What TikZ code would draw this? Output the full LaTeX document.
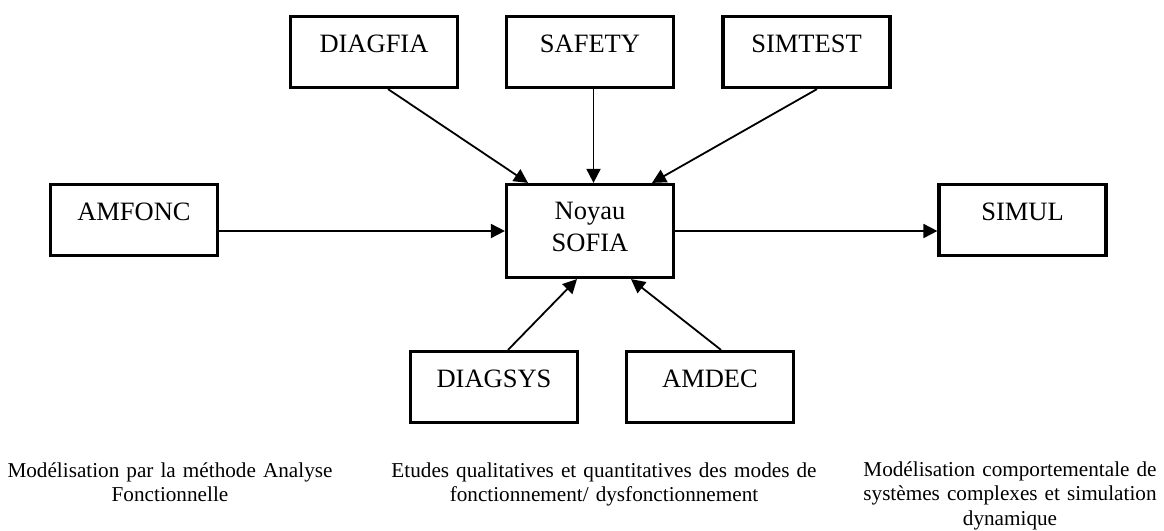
\documentclass[tikz,border=0pt]{standalone}
\usepackage{fontspec}
\setmainfont{Liberation Serif}
\usetikzlibrary{arrows.meta,calc}
\begin{document}
\begin{tikzpicture}[x=1pt,y=-1pt,
  boxbase/.style={draw, line width=3.2pt, minimum width=167pt, inner sep=0pt,
    font=\fontsize{26.5}{32}\selectfont},
  boxnode/.style={boxbase, minimum height=71pt, text height=18pt, text depth=18pt},
  conn/.style={line width=1.8pt, -{Triangle[length=14pt,width=14pt]}},
  caption/.style={font=\fontsize{21.2}{24.5}\selectfont, align=center, anchor=base, inner sep=0pt}]
\useasboundingbox (0,0) rectangle (1164,530);
% boxes
\node[boxnode] (diagfia) at (374,52) {DIAGFIA};
\node[boxnode] (safety) at (590,52) {SAFETY};
\node[boxnode] (simtest) at (806.5,52) {SIMTEST};
\node[boxnode] (amfonc) at (134,220) {AMFONC};
\node[boxbase, minimum height=93pt, align=center] (noyau) at (590,231) {Noyau\\SOFIA\rule[-7.5pt]{0pt}{7.5pt}};
\node[boxnode] (simul) at (1022.5,220) {SIMUL};
\node[boxnode] (diagsys) at (494,387) {DIAGSYS};
\node[boxnode] (amdec) at (710,387) {AMDEC};
% connectors
\draw[conn] ($(diagfia.south)+(14,0)$) -- ($(noyau.north)+(-62,0)$);
\draw[conn] ($(safety.south)+(3.5,0)$) -- ($(noyau.north)+(3.5,0)$);
\draw[conn] ($(simtest.south)+(10.5,0)$) -- ($(noyau.north)+(62,0)$);
\draw[conn] (amfonc.east |- noyau.west) -- (noyau.west);
\draw[conn] (noyau.east) -- (noyau.east -| simul.west);
\draw[conn] ($(diagsys.north)+(14,0)$) -- ($(noyau.south)+(-13,0)$);
\draw[conn] ($(amdec.north)+(11,0)$) -- ($(noyau.south)+(41,0)$);
% captions
\node[caption, text width=420pt] (capleft) at (170,477) {Modélisation par la méthode Analyse\\Fonctionnelle};
\node[caption, text width=460pt] (capmid) at (604,477) {Etudes qualitatives et quantitatives des modes de\\fonctionnement/ dysfonctionnement};
\node[caption, text width=340pt] (capright) at (1010,476) {Modélisation comportementale de\\systèmes complexes et simulation\\dynamique};
\end{tikzpicture}
\end{document}
